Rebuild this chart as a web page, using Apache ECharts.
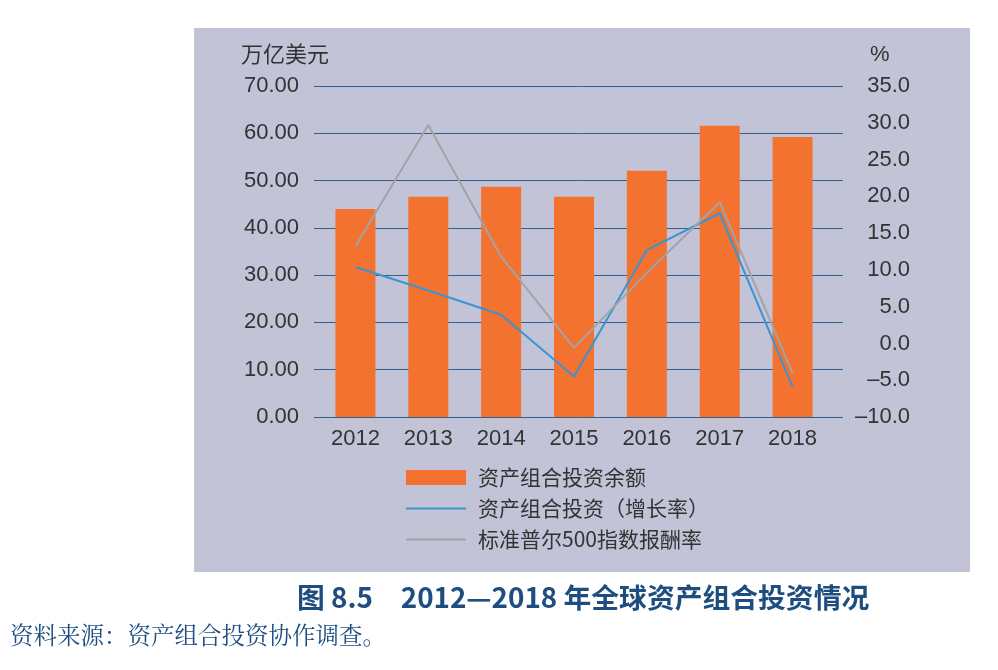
<!DOCTYPE html>
<html><head><meta charset="utf-8">
<script src="https://cdn.jsdelivr.net/npm/echarts@6/dist/echarts.min.js"></script>
<style>html,body{margin:0;padding:0;background:#fff}#c{width:998px;height:670px}</style>
</head><body><div id="c"></div>
<script>
var years = ['2012','2013','2014','2015','2016','2017','2018'];
var balance = [44.0, 46.6, 48.7, 46.6, 52.1, 61.6, 59.2];
var growth = [10.4, 7.2, 3.9, -4.5, 12.7, 17.7, -5.9];
var sp500 = [13.2, 29.7, 11.8, -0.6, 9.6, 19.2, -4.0];
var leftTicks = {min: 0, max: 70, interval: 10};
var rightTicks = {min: -10, max: 35, interval: 5};
var seriesNames = ['资产组合投资余额', '资产组合投资（增长率）', '标准普尔500指数报酬率'];

var chart = echarts.init(document.getElementById('c'));
var numFont = 'Liberation Sans, Arial, sans-serif';
var cjkFont = '"Noto Sans CJK SC", sans-serif';
var txt = '#333333';
var gridTop = 86, gridBottom = 253;
var lineIcon = 'path://M0,0H60V2H0Z';
chart.setOption({
  animation: false,
  backgroundColor: '#ffffff',
  graphic: [
    {type: 'rect', z: -10, shape: {x: 194, y: 28, width: 776, height: 544}, style: {fill: '#C3C3D8'}},
    {type: 'text', left: 241, top: 43, style: {text: '万亿美元', font: '22px ' + cjkFont, fill: txt}},
    {type: 'text', left: 870, top: 44, style: {text: '%', font: '22px ' + numFont, fill: txt}},
    {type: 'text', left: 297, top: 584, style: {text: '图 8.5　2012—2018 年全球资产组合投资情况', font: 'bold 27.8px ' + cjkFont, fill: '#1E4E80'}},
    {type: 'text', left: 10, top: 623, style: {text: '资料来源：资产组合投资协作调查。', font: '23.5px "Noto Serif CJK SC", serif', fill: '#1E4E80'}}
  ],
  legend: {
    orient: 'vertical', left: 406, top: 467, padding: 0, itemWidth: 60, itemHeight: 15, itemGap: 10,
    symbolKeepAspect: true,
    textStyle: {fontFamily: cjkFont, fontSize: 21, color: txt, padding: [0, 0, 0, 7]},
    data: [
      {name: seriesNames[0], icon: 'rect'},
      {name: seriesNames[1], icon: lineIcon},
      {name: seriesNames[2], icon: lineIcon}
    ]
  },
  grid: [
    {left: 314, right: 155, top: gridTop, bottom: gridBottom},
    {left: 319, right: 169, top: gridTop, bottom: gridBottom}
  ],
  xAxis: [
    {type: 'category', gridIndex: 0, data: years, show: false},
    {type: 'category', gridIndex: 1, data: years,
     axisLine: {show: false}, axisTick: {show: false},
     axisLabel: {margin: 11, fontFamily: numFont, fontSize: 22, color: txt}}
  ],
  yAxis: [
    {type: 'value', gridIndex: 0, position: 'left', min: leftTicks.min, max: leftTicks.max, interval: leftTicks.interval,
     axisLine: {show: false}, axisTick: {show: false},
     splitLine: {lineStyle: {color: '#335F8C', width: 1}},
     axisLabel: {margin: 15, fontFamily: numFont, fontSize: 22, color: txt, formatter: function (v) { return v.toFixed(2); }}},
    {type: 'value', gridIndex: 0, position: 'right', min: rightTicks.min, max: rightTicks.max, interval: rightTicks.interval,
     axisLine: {show: false}, axisTick: {show: false}, splitLine: {show: false},
     axisLabel: {margin: 67, align: 'right', fontFamily: numFont, fontSize: 22, color: txt,
       formatter: function (v) { return (v < 0 ? '–' : '') + Math.abs(v).toFixed(1); }}},
    {type: 'value', gridIndex: 1, min: leftTicks.min, max: leftTicks.max, interval: leftTicks.interval, show: false, splitLine: {show: false}},
    {type: 'value', gridIndex: 1, min: rightTicks.min, max: rightTicks.max, interval: rightTicks.interval, show: false, splitLine: {show: false}}
  ],
  series: [
    {name: seriesNames[0], type: 'bar', xAxisIndex: 1, yAxisIndex: 2, data: balance, barWidth: 40,
     itemStyle: {color: '#F4722F'}},
    {name: seriesNames[1], type: 'line', xAxisIndex: 1, yAxisIndex: 3, data: growth, symbol: 'none',
     lineStyle: {color: '#3A94D2', width: 2}, itemStyle: {color: '#3A94D2'}},
    {name: seriesNames[2], type: 'line', xAxisIndex: 1, yAxisIndex: 3, data: sp500, symbol: 'none',
     lineStyle: {color: '#A3A3A6', width: 2}, itemStyle: {color: '#A3A3A6'}}
  ]
});
</script></body></html>
